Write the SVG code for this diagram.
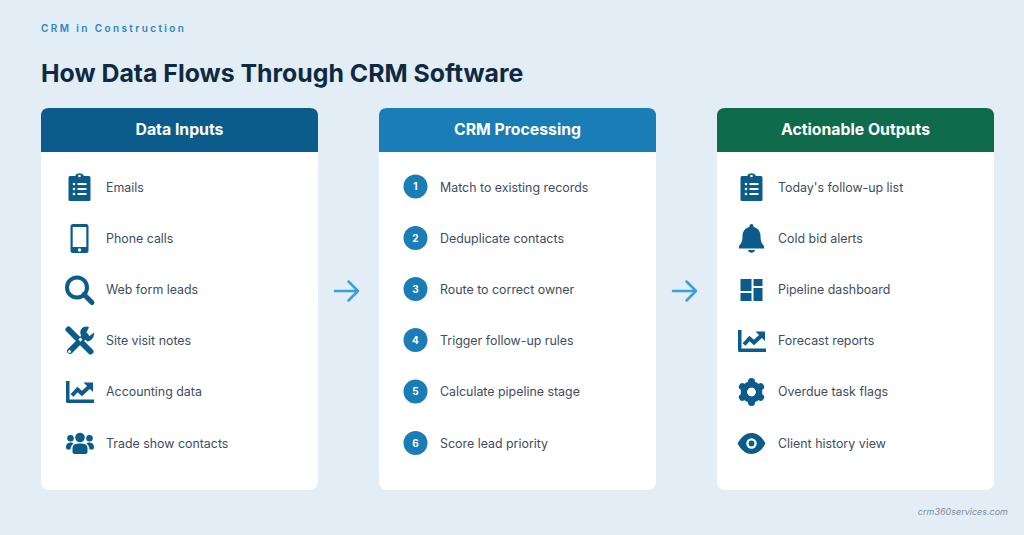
<svg xmlns="http://www.w3.org/2000/svg" width="1024" height="535" viewBox="0 0 1024 535">
<style>
text{font-family:Inter,"Liberation Sans",sans-serif}
.hd{font-size:15.800px;font-weight:700;fill:#fff;text-anchor:middle}
.it{font-size:12.400px;fill:#3d4d5f}
.num{font-size:10px;font-weight:700;fill:#fff;text-anchor:middle}
.ic{fill:#0b5c8a}
.cut{fill:#fff}
.arr{fill:none;stroke:#3a9fdb;stroke-width:2.500;stroke-linecap:round;stroke-linejoin:round}
</style>
<defs>
<symbol id="clip" overflow="visible" viewBox="-15 -15 30 30" width="30" height="30">
<path class="ic" d="M-9.500-11H-4.200C-3.800-14.800 3.800-14.800 4.200-11H9.500Q11-11 11-9.500V12.500Q11 14 9.500 14H-9.500Q-11 14-11 12.500V-9.500Q-11-11-9.500-11Z"/>
<circle class="cut" cx="0" cy="-11" r="1.300"/>
<g class="cut"><circle cx="-5.500" cy="-3" r="1.300"/><circle cx="-5.500" cy="2" r="1.300"/><circle cx="-5.500" cy="7" r="1.300"/><rect x="-2" y="-4" width="9" height="2" rx=".5"/><rect x="-2" y="1" width="9" height="2" rx=".5"/><rect x="-2" y="6" width="9" height="2" rx=".5"/></g>
</symbol>
<symbol id="phone" overflow="visible" viewBox="-15 -15 30 30" width="30" height="30">
<rect class="ic" x="-9" y="-14.500" width="18" height="29" rx="2.500"/>
<rect class="cut" x="-6.800" y="-11.500" width="13.600" height="20"/>
<circle class="cut" cx="0" cy="11.500" r="1.700"/>
</symbol>
<symbol id="search" overflow="visible" viewBox="-15 -15 30 30" width="30" height="30">
<circle cx="-2.500" cy="-2.500" r="10" fill="none" stroke="#0b5c8a" stroke-width="4"/>
<path d="M4.500 4.500L12.500 12.500" stroke="#0b5c8a" stroke-width="5" stroke-linecap="round" fill="none"/>
</symbol>
<symbol id="tools" overflow="visible" viewBox="-15 -15 30 30" width="30" height="30">
<path d="M-11-11.500L11 10.500" stroke="#0b5c8a" stroke-width="6" stroke-linecap="round" fill="none"/>
<path d="M-9.500 10L6-5.500" stroke="#0b5c8a" stroke-width="6" stroke-linecap="round" fill="none"/>
<path class="ic" d="M7-14.500C2-14.500-.5-10 1.500-5.500L8 .5C11 .5 15-3 14.500-8.500L10-5 6.500-8 9.500-13.500Q8.500-14.500 7-14.500Z"/>
<rect class="cut" x="-1.800" y="-3.200" width="3" height="3" transform="rotate(45)"/>
<circle class="cut" cx="-10" cy="10.500" r="1.500"/>
</symbol>
<symbol id="chart" overflow="visible" viewBox="-15 -15 30 30" width="30" height="30">
<path class="ic" d="M-14-11H-10.500V7.400H14V11H-12.500Q-14 11-14 9.500Z"/>
<path d="M-8 3.500L-2.500-2.500 2 1.500 9-5" fill="none" stroke="#0b5c8a" stroke-width="4"/>
<path class="ic" d="M3.500-9.500H13V0Z"/>
</symbol>
<symbol id="users" overflow="visible" viewBox="-15 -15 30 30" width="30" height="30">
<circle class="ic" cx="-9.500" cy="-5.800" r="3.300"/>
<circle class="ic" cx="9.500" cy="-5.800" r="3.300"/>
<circle class="ic" cx="0" cy="-6.500" r="4.800"/>
<path class="ic" d="M-7.500 8V4.500C-7.500 0-4-.5 0-.5S7.500 0 7.500 4.500V8Q7.500 10 5.500 10H-5.500Q-7.500 10-7.500 8Z"/>
<path class="ic" d="M-14 3.500C-14-1-11-1.500-9-1.500-7.800-1.500-7-1-6.500-.5-8.500 1-9.500 3-9.500 5.500H-12.500Q-14 5.500-14 3.500Z"/>
<path class="ic" d="M14 3.500C14-1 11-1.500 9-1.500 7.800-1.500 7-1 6.500-.5 8.500 1 9.500 3 9.500 5.500H12.500Q14 5.500 14 3.500Z"/>
</symbol>
<symbol id="bell" overflow="visible" viewBox="-15 -15 30 30" width="30" height="30">
<path class="ic" d="M0-14.500C1.200-14.500 2-13.700 2-12.500V-11.500C6.500-10.500 9-7 9-2.500C9 3 10.500 5 12.500 7.500V10H-12.500V7.500C-10.500 5-9 3-9-2.500C-9-7-6.500-10.500-2-11.500V-12.500C-2-13.700-1.200-14.500 0-14.500Z"/>
<path class="ic" d="M-3.500 11.500H3.500C3 15-3 15-3.500 11.500Z"/>
</symbol>
<symbol id="dash" overflow="visible" viewBox="-15 -15 30 30" width="30" height="30">
<g class="ic"><rect x="-11" y="-11" width="11" height="12"/><rect x="2" y="-11" width="9" height="7"/><rect x="-11" y="3" width="11" height="8"/><rect x="2" y="-2" width="9" height="13"/></g>
</symbol>
<symbol id="gear" overflow="visible" viewBox="-15 -15 30 30" width="30" height="30">
<g fill="none" stroke="#0b5c8a"><circle r="7.500" stroke-width="6.500"/>
<path stroke-width="7" stroke-linecap="round" d="M0-10.500V-9.500M0 10.500V9.500M-9.100-5.250L-8.200-4.700M9.100-5.250L8.200-4.700M-9.100 5.250L-8.200 4.700M9.100 5.250L8.200 4.700"/></g>
<circle class="cut" r="4.200"/>
</symbol>
<symbol id="eye" overflow="visible" viewBox="-15 -15 30 30" width="30" height="30">
<path class="ic" d="M-14 0C-10-7.500-5-10.500 0-10.500S10-7.500 14 0C10 7.500 5 10.500 0 10.500S-10 7.500-14 0Z"/>
<circle class="cut" r="5.200"/>
<circle class="ic" r="2.900"/>
</symbol>
</defs>
<rect width="1024" height="535" fill="#e3edf6"/>
<text x="41" y="32" font-size="10" font-weight="600" letter-spacing="2.400" fill="#2a87c0">CRM in Construction</text>
<text x="41" y="82" font-size="24.850" font-weight="700" fill="#0e2a42">How Data Flows Through CRM Software</text>

<g id="card-inputs">
<rect x="41" y="108" width="277" height="382" rx="8" fill="#fff"/>
<path d="M41 152V116Q41 108 49 108H310Q318 108 318 116V152Z" fill="#0b5c8a"/>
<text class="hd" x="179.500" y="135">Data Inputs</text>
<use href="#clip" x="64.500" y="172"/><text class="it" x="106" y="191.500">Emails</text>
<use href="#phone" x="64.500" y="223.500"/><text class="it" x="106" y="242.500">Phone calls</text>
<use href="#search" x="64.500" y="275"/><text class="it" x="106" y="293.500">Web form leads</text>
<use href="#tools" x="64.500" y="326"/><text class="it" x="106" y="344.500">Site visit notes</text>
<use href="#chart" x="65" y="377"/><text class="it" x="106" y="396">Accounting data</text>
<use href="#users" x="65" y="429"/><text class="it" x="106" y="447.500">Trade show contacts</text>
</g>

<g id="card-processing">
<rect x="379" y="108" width="277" height="382" rx="8" fill="#fff"/>
<path d="M379 152V116Q379 108 387 108H648Q656 108 656 116V152Z" fill="#1a7db5"/>
<text class="hd" x="517.500" y="135">CRM Processing</text>
<g fill="#1a7db5">
<circle cx="415.500" cy="186.500" r="12"/><circle cx="415.500" cy="238" r="12"/><circle cx="415.500" cy="289" r="12"/><circle cx="415.500" cy="340" r="12"/><circle cx="415.500" cy="391.500" r="12"/><circle cx="415.500" cy="443" r="12"/>
</g>
<text class="num" x="415.500" y="190">1</text><text class="it" x="440" y="191.500">Match to existing records</text>
<text class="num" x="415.500" y="241.500">2</text><text class="it" x="440" y="242.500">Deduplicate contacts</text>
<text class="num" x="415.500" y="292.500">3</text><text class="it" x="440" y="293.500">Route to correct owner</text>
<text class="num" x="415.500" y="343.500">4</text><text class="it" x="440" y="344.500">Trigger follow-up rules</text>
<text class="num" x="415.500" y="395">5</text><text class="it" x="440" y="396">Calculate pipeline stage</text>
<text class="num" x="415.500" y="446.500">6</text><text class="it" x="440" y="447.500">Score lead priority</text>
</g>

<g id="card-outputs">
<rect x="717" y="108" width="277" height="382" rx="8" fill="#fff"/>
<path d="M717 152V116Q717 108 725 108H986Q994 108 994 116V152Z" fill="#0f6b4b"/>
<text class="hd" x="855.500" y="135">Actionable Outputs</text>
<use href="#clip" x="736.500" y="172"/><text class="it" x="778" y="191.500">Today's follow-up list</text>
<use href="#bell" x="736.500" y="223.500"/><text class="it" x="778" y="242.500">Cold bid alerts</text>
<use href="#dash" x="736.500" y="275"/><text class="it" x="778" y="293.500">Pipeline dashboard</text>
<use href="#chart" x="737" y="326"/><text class="it" x="778" y="344.500">Forecast reports</text>
<use href="#gear" x="736.500" y="377"/><text class="it" x="778" y="396">Overdue task flags</text>
<use href="#eye" x="736.500" y="428.500"/><text class="it" x="778" y="447.500">Client history view</text>
</g>

<g id="connectors">
<path class="arr" d="M335 291H358M348.500 281.500L358 291 348.500 300.500"/>
<path class="arr" d="M673 291H696M686.500 281.500L696 291 686.500 300.500"/>
</g>
<text x="1008" y="515" font-size="9" font-style="italic" text-anchor="end" fill="#7c8fa0">crm360services.com</text>
</svg>
